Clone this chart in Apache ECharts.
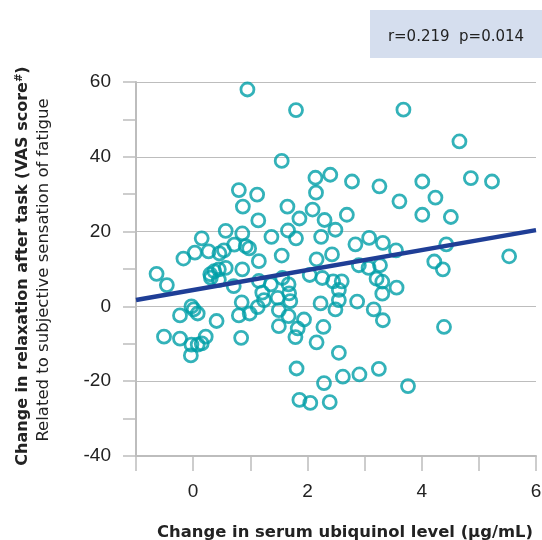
<!DOCTYPE html>
<html><head><meta charset="utf-8">
<script src="https://cdn.jsdelivr.net/npm/echarts@6/dist/echarts.min.js"></script>
<style>html,body{margin:0;padding:0;background:#fff}#c{width:542px;height:540px}</style>
</head><body><div id="c"></div>
<script>
// Change in serum ubiquinol level (µg/mL)
const ubiquinolChange = [
  0.95, 1.80, 3.68, 4.66, 1.55, 2.14, 2.40, 2.78, 3.26, 4.01, 4.86, 5.23, 3.61, 4.24, 4.01, 4.51, 2.69,
  0.80, 1.12, 2.15, 0.87, 1.65, 2.09, 1.14, 1.86, 2.30,
  0.57, 0.86, 1.37, 1.66, 1.80, 2.24, 0.15, 2.49, 2.84, 3.08, 3.32, 3.55, 4.43, 5.53, 4.22, 4.37,
  2.43, 2.16, 1.55, 1.15, 0.92, 0.98, 0.03, 0.27, 0.46, 0.54, -0.17, 0.72,
  -0.64, -0.46, 0.30, 0.37, 0.45, 0.57, 0.45, 0.31, 0.71, 0.86, 1.15, 1.56, 1.36, 1.67, 1.21, 1.68,
  1.24, 1.48, 1.70, 2.04, 2.26, 2.45, 2.60, 2.55, 2.55, 2.23, 2.87, 2.90, 3.07, 3.27, 3.31, 3.21,
  3.56, 3.31, 0.85, -0.03,
  0.01, 0.08, -0.23, 0.41, -0.51, -0.23, -0.03, 0.08, 0.15, 0.22, -0.04, 0.84, 0.99, 0.80, 1.13,
  1.50, 1.67, 1.94, 1.50, 1.83, 1.79, 2.28, 2.16, 2.49, 3.16, 3.32, 4.39, 2.55,
  1.81, 3.25, 2.91, 2.62, 2.29, 3.76, 1.86, 2.05, 2.39
];
// Change in relaxation after task (VAS score)
const vasChange = [
  58.0, 52.5, 52.6, 44.1, 38.9, 34.4, 35.2, 33.4, 32.1, 33.4, 34.3, 33.4, 28.1, 29.1, 24.5, 23.9, 24.5,
  31.1, 29.9, 30.4, 26.7, 26.7, 25.9, 23.0, 23.5, 23.1,
  20.2, 19.5, 18.6, 20.3, 18.2, 18.6, 18.2, 20.5, 16.6, 18.3, 17.0, 15.0, 16.6, 13.4, 12.0, 9.9,
  13.9, 12.6, 13.6, 12.1, 16.1, 15.5, 14.4, 14.7, 14.2, 15.0, 12.8, 16.5,
  8.7, 5.7, 8.6, 9.4, 9.9, 10.3, 7.1, 7.7, 5.4, 9.9, 6.8, 7.6, 5.9, 5.9, 3.7, 3.5,
  1.7, 2.3, 1.4, 8.4, 7.6, 6.7, 6.7, 4.4, 1.7, 0.8, 1.3, 11.0, 10.3, 11.0, 6.6, 7.4,
  5.0, 3.4, 1.1, 0.0,
  -0.8, -1.9, -2.4, -3.9, -8.1, -8.6, -10.2, -10.2, -9.9, -8.1, -13.1, -8.4, -1.9, -2.4, -0.2,
  -1.0, -2.6, -3.5, -5.3, -5.9, -8.2, -5.5, -9.6, -0.8, -0.8, -3.7, -5.5, -12.4,
  -16.6, -16.7, -18.2, -18.8, -20.5, -21.3, -25.0, -25.8, -25.6
];
// Regression line end points
const trendX = [-1, 6];
const trendY = [1.7, 20.4];
// Tick labels
const xLabelValues = [0, 2, 4, 6];
const yLabelValues = [-40, -20, 0, 20, 40, 60];
const statText = 'r=0.219  p=0.014';
const xTitle = 'Change in serum ubiquinol level (μg/mL)';
const yTitleMain = 'Change in relaxation after task (VAS score';
const yTitleSup = '#';
const yTitleSub = 'Related to subjective sensation of fatigue';

const FONT = 'Liberation Sans, Arial, Helvetica, sans-serif';
const WIDE = 'DejaVu Sans, Liberation Sans, sans-serif';
const GRAY = '#bdbdbd';
const scatterData = ubiquinolChange.map((x, i) => [x, vasChange[i]]);
const trendData = trendX.map((x, i) => [x, trendY[i]]);

const chart = echarts.init(document.getElementById('c'), null, {renderer: 'canvas'});
chart.setOption({
  animation: false,
  backgroundColor: '#ffffff',
  grid: {left: 136, right: 6, top: 82, bottom: 84, outerBoundsMode: 'none', containLabel: false},
  xAxis: {
    type: 'value', min: -1, max: 6, interval: 1,
    axisLine: {show: true, onZero: false, lineStyle: {color: GRAY, width: 2}},
    axisTick: {show: true, length: 15, lineStyle: {color: GRAY, width: 1.5}},
    axisLabel: {
      margin: 26, fontSize: 19, color: '#222', fontFamily: FONT,
      formatter: v => xLabelValues.indexOf(v) >= 0 ? String(v) : ''
    },
    splitLine: {show: false},
    name: xTitle, nameLocation: 'middle', nameGap: 69,
    nameTextStyle: {fontSize: 16.4, fontWeight: 'bold', color: '#222', fontFamily: WIDE, padding: [0, 0, 0, 18]}
  },
  yAxis: [
    {
      type: 'value', min: -40, max: 60, interval: 20,
      axisLine: {show: true, onZero: false, lineStyle: {color: GRAY, width: 2}},
      axisTick: {show: true, length: 13, lineStyle: {color: GRAY, width: 1.5}},
      axisLabel: {
        margin: 25, fontSize: 19, color: '#222', fontFamily: FONT,
        formatter: v => yLabelValues.indexOf(v) >= 0 ? String(v) : ''
      },
      splitLine: {show: true, lineStyle: {color: GRAY, width: 1.2}}
    },
    {
      type: 'value', min: -40, max: 60, interval: 10, position: 'left',
      axisLine: {show: false, onZero: false},
      axisTick: {show: true, length: 13, lineStyle: {color: GRAY, width: 1.5}},
      axisLabel: {show: false},
      splitLine: {show: false}
    }
  ],
  series: [
    {
      type: 'scatter', yAxisIndex: 0, data: scatterData,
      symbol: 'circle', symbolSize: 13,
      itemStyle: {color: 'rgba(255,255,255,0)', borderColor: '#009fa8', borderWidth: 2.8},
      z: 2
    },
    {
      type: 'line', yAxisIndex: 0, data: trendData, symbol: 'none',
      lineStyle: {color: '#1f3e96', width: 4.5}, z: 3
    }
  ],
  graphic: [
    {
      type: 'rect', right: 0, top: 10, z: 10,
      shape: {width: 172, height: 48},
      style: {fill: '#d5deee'}
    },
    {
      type: 'text', x: 456, y: 37, z: 11,
      style: {text: statText, font: '15px ' + WIDE, fill: '#222', textAlign: 'center', textVerticalAlign: 'middle'}
    },
    {
      type: 'text', x: 23, y: 266, rotation: Math.PI / 2, z: 11,
      style: {
        text: '{b|' + yTitleMain + '}{s|' + yTitleSup + '}{b|)}',
        textAlign: 'center', textVerticalAlign: 'middle',
        rich: {
          b: {fontSize: 16, fontWeight: 'bold', fontFamily: WIDE, fill: '#222', lineHeight: 18},
          s: {fontSize: 10, fontWeight: 'bold', fontFamily: WIDE, fill: '#222', verticalAlign: 'top', lineHeight: 18}
        }
      }
    },
    {
      type: 'text', x: 44, y: 270, rotation: Math.PI / 2, z: 11,
      style: {text: yTitleSub, font: '16.5px ' + WIDE, fill: '#222', textAlign: 'center', textVerticalAlign: 'middle'}
    }
  ]
});
</script>
</body></html>
